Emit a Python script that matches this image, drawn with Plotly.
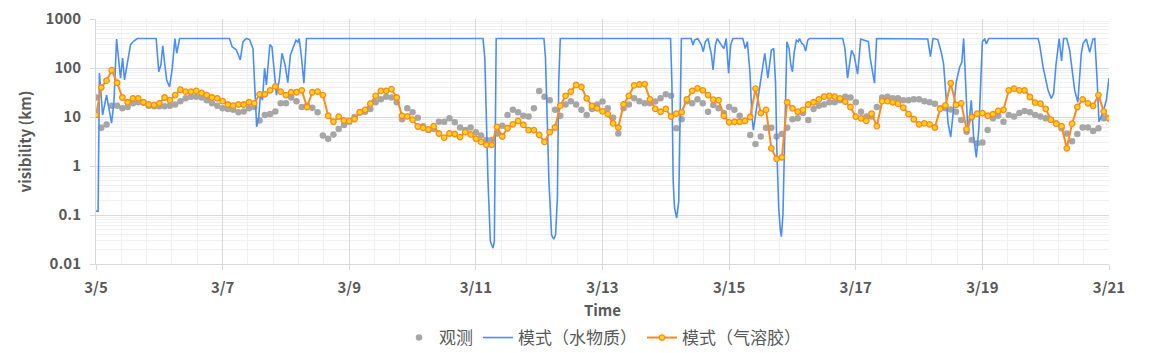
import pandas as pd
import plotly.graph_objects as go

# ---------------- data ----------------
START = "2023-03-05 00:00"
STEP_HOURS = 2  # observation / aerosol-model sampling interval

# observed visibility (km), every 2 h from 3/5 00:00 to 3/21 00:00
obs_vis = [
    25, 6, 7, 17, 17, 15, 16, 19, 20, 19.5, 17, 16.5,
    16.5, 16.5, 17, 18, 21, 24, 26, 26, 25, 22, 19, 17,
    15, 14.5, 14, 12.5, 13, 15, 16, 8.5, 11, 11.5, 13, 19,
    19, 25, 21, 16, 17, 15.5, 12.5, 4.2, 3.6, 4.4, 5.7, 6.9,
    8, 10, 12.5, 12.8, 14.6, 20, 23, 26, 25, 20, 9, 15,
    12.5, 9.7, 6.5, 5.4, 5.7, 8, 8, 9.4, 7.8, 6.1, 5.4, 6.1,
    4.9, 4.2, 3.4, 3.4, 4.6, 6.6, 11, 14, 12.5, 10.6, 10.2, 15,
    34, 26, 22, 14, 10.6, 18, 21, 18, 14, 11, 14.6, 18,
    20.6, 15, 9.7, 4.6, 15, 18, 24, 21, 19, 19, 20.6, 24,
    29, 27, 5.9, 9, 21, 19, 23, 19, 12.8, 17.6, 15, 12,
    16, 14, 10.6, 8.3, 4.3, 2.8, 4, 6, 6, 4, 4.5, 6,
    9, 9.4, 12, 8.7, 14.6, 17, 18, 20, 20, 22, 26, 25,
    20, 12.8, 10.2, 10.2, 16, 25, 26, 24, 24, 22, 22, 23,
    23, 21, 20, 18.7, 15, 15, 14.3, 12.8, 8.7, 5, 3.4, 2.9,
    3.0, 5.4, 9.4, 10.6, 8, 11, 10.2, 12, 13.3, 12.5, 11, 10.2,
    9.4, 8.7, 7.4, 5.9, 4.6, 3.2, 4.5, 6.1, 6.1, 5.2, 5.9, 9.4,
    9.4,
]

# aerosol model visibility (km), every 2 h
aero_vis = [
    11, 40, 55, 90, 50, 25, 20, 24, 24, 20, 18, 17.6,
    19, 25, 22, 28, 36, 33, 33, 34, 31, 28, 25, 24,
    21, 18, 17, 18, 18, 20, 19, 29, 29, 35, 42, 33,
    28, 32, 32, 35, 16, 32, 33, 28, 10.6, 8.0, 10.2, 8.5,
    8.3, 9.1, 12.5, 14, 18.7, 27, 34, 34, 37, 25, 10.6, 10.3,
    8.8, 6.4, 6.0, 5.6, 6.5, 4.6, 3.8, 4.6, 4.5, 3.9, 4.9, 4.4,
    3.6, 3.1, 2.7, 2.7, 6.3, 4.0, 5.9, 7.1, 8.3, 6.9, 5.4, 5.4,
    4.3, 3.1, 4.9, 6.1, 17, 27, 33, 45, 41, 24, 16.8, 15,
    13, 11.5, 7.4, 6.1, 18.1, 27, 44, 46, 47, 23, 14.6, 12.8,
    14.6, 10.2, 11.7, 12.5, 23, 34, 38.5, 35, 28, 22.6, 22, 10.6,
    7.8, 8.0, 8.0, 8.3, 10, 38, 12, 14, 2.3, 1.4, 1.5, 20,
    15, 12.8, 14, 18, 20, 23, 26, 27, 26, 24, 20.6, 16,
    10.2, 9.4, 8.3, 11.7, 6.5, 21, 21, 20, 18.7, 15.5, 11.5, 9,
    7.1, 7.4, 7.1, 6.1, 14.6, 17.3, 49, 17.6, 19, 5.6, 10, 11.7,
    12, 10.6, 11.5, 13.3, 14, 35, 38, 35, 35, 25.6, 19.6, 18.7,
    14.6, 8.8, 7.3, 6.5, 2.3, 7.3, 16, 23, 19, 16.8, 28, 13,
    9.4,
]

# hydrometeor model: (hours since 3/5 00:00, visibility km) vertices
hydro_hours = [
    0, 0.8, 1.3, 2.5, 4.0, 5.9, 6.8, 7.8, 9.3, 10.1, 10.8, 13.1, 14.2, 15.7,
    22.8, 23.3, 23.8, 24.6, 25.3, 26.1, 26.8, 27.9, 28.9, 29.9, 30.6, 31.7,
    50.6, 51.6, 53.2, 54.7, 55.7, 57.0, 58.2, 59.5, 60.2, 60.9, 61.7, 62.4,
    63.1, 63.9, 64.6, 65.9, 66.7, 67.4, 68.4, 69.5, 70.5, 71.7, 72.7, 73.7,
    74.8, 75.8, 76.5, 77.0, 77.8, 78.8, 79.8,
    146.7, 147.4, 148.6, 149.5, 150.5, 151.0, 151.4, 151.7,
    169.8, 170.4, 171.7, 172.7, 173.5, 174.2, 174.9, 175.4, 176.0,
    217.8, 218.3, 218.8, 219.3, 220.1, 220.9, 221.4, 221.9,
    225.6, 226.3, 226.9, 228.1, 229.5, 230.2, 231.0, 232.0, 233.3, 233.9,
    234.8, 235.5, 237.0, 238.0, 238.9, 239.8, 240.6, 241.4,
    245.2, 246.1, 246.9, 247.9, 248.6, 249.2, 250.3, 251.2, 252.2, 253.5,
    254.7, 256.0, 256.9, 257.6, 258.1, 258.8, 259.4, 259.8, 260.4, 260.9,
    261.4, 261.9, 262.7, 263.4, 264.0, 264.7, 265.5, 266.2, 266.7, 267.5,
    268.3, 269.0, 269.8, 270.5,
    283.1, 283.9, 284.9, 286.4, 287.4, 288.7, 289.9, 291.5, 292.8, 293.5,
    294.3, 295.1, 295.9,
    314.1, 315.3, 316.3, 317.3, 319.1, 320.5, 321.3, 321.7, 323.0, 324.0,
    324.9, 326.1, 327.4, 328.2, 328.9, 329.7, 330.5, 331.8, 332.7, 333.7,
    334.7, 336.0, 336.9, 337.5, 338.4,
    357.1, 357.7, 359.0, 360.9, 362.1, 363.0, 363.9, 365.1, 366.0, 366.8,
    368.0, 369.1, 371.0, 372.2, 373.5, 374.2, 375.4, 376.7, 377.9, 378.6,
    379.5, 380.2, 381.6, 383.0, 384.0,
]
hydro_vis = [
    0.12, 0.12, 79, 11, 28, 7.5, 20, 390, 62, 160, 57, 300, 350, 400,
    400, 215, 84, 115, 285, 115, 57, 41, 98, 400, 200, 400,
    400, 270, 235, 146, 340, 400, 380, 250, 50, 6.3, 10, 33,
    22, 99, 45, 300, 270, 99, 28, 57, 200, 115, 50, 185,
    270, 370, 340, 400, 185, 49, 400,
    400, 157, 0.48, 0.029, 0.021, 0.029, 2.3, 400,
    400, 157, 0.48, 0.039, 0.032, 0.039, 0.22, 52, 400,
    400, 52, 0.48, 0.14, 0.086, 0.19, 11, 400,
    400, 296, 370, 400, 296, 215, 345, 400, 185, 91,
    296, 400, 296, 250, 400, 78, 296, 400,
    400, 250, 345, 80, 11, 5.4, 14, 30, 66, 200,
    62, 230, 250, 50, 2.1, 0.14, 0.05, 0.036, 0.1, 2.3,
    52, 345, 250, 115, 84, 215, 370, 345, 400, 320,
    296, 222, 370, 400,
    400, 250, 62, 230, 180, 75, 390, 370, 345, 157,
    84, 49, 400,
    400, 390, 170, 400, 380, 200, 120, 57, 7.5, 3.9,
    14, 52, 105, 130, 400, 50, 4.7, 22, 3.9, 1.5,
    6.3, 345, 390, 310, 400,
    400, 300, 105, 35, 24, 30, 115, 400, 140, 400,
    400, 230, 35, 20, 200, 320, 390, 210, 390, 400,
    57, 8, 12, 22, 62,
]

y_tick_vals = [0.01, 0.1, 1, 10, 100, 1000]
y_tick_text = ["0.01", "0.1", "1", "10", "100", "1000"]

series_names = ["观测", "模式（水物质）", "模式（气溶胶）"]
x_title = "Time"
y_title = "visibility (km)"

# ---------------- figure ----------------
start = pd.Timestamp(START)
t_regular = pd.date_range(start, periods=len(obs_vis), freq=f"{STEP_HOURS}h")
t_hydro = start + pd.to_timedelta(hydro_hours, unit="h")

TXT = "#595959"
FONT = "Noto Sans CJK SC"

fig = go.Figure()
fig.add_trace(go.Scatter(
    x=t_regular, y=obs_vis, mode="markers", name=series_names[0],
    marker=dict(color="#a6a6a6", size=6.5, line=dict(width=0)),
))
fig.add_trace(go.Scatter(
    x=t_hydro, y=hydro_vis, mode="lines", name=series_names[1],
    line=dict(color="#4a8ef5", width=1.6),
))
fig.add_trace(go.Scatter(
    x=t_regular, y=aero_vis, mode="lines+markers", name=series_names[2],
    line=dict(color="#ff8a1c", width=2),
    marker=dict(symbol="circle", size=5.5, color="#ffd41f",
                line=dict(color="#ff8a1c", width=1.3)),
))

fig.update_layout(
    width=1160, height=353,
    margin=dict(l=96, r=51, t=19, b=89, autoexpand=False),
    paper_bgcolor="white", plot_bgcolor="white",
    font=dict(family=FONT, color=TXT, size=14),
    showlegend=True,
    legend=dict(orientation="h", x=0.5, xanchor="center", y=-0.302,
                yanchor="middle", font=dict(size=17, color=TXT, family=FONT),
                itemwidth=30, tracegroupgap=0),
)

fig.update_xaxes(
    type="date",
    range=[start, start + pd.Timedelta(days=16)],
    tick0=start, dtick=2 * 86400000, tickformat="%-m/%-d",
    showgrid=True, gridcolor="#d9d9d9", gridwidth=1,
    minor=dict(dtick=int(0.4 * 86400000), tick0=start, showgrid=True,
               gridcolor="#f0f0f0", gridwidth=1),
    showline=True, linecolor="#d9d9d9", linewidth=1,
    ticks="outside", ticklen=5, tickcolor="#d9d9d9",
    ticklabelstandoff=5,
    tickfont=dict(size=15, color=TXT, family=FONT, weight="bold"),
    title=dict(text=x_title, font=dict(size=15, color=TXT, family=FONT, weight="bold"),
               standoff=9),
    zeroline=False,
)
fig.update_yaxes(
    type="log", range=[-2, 3],
    tickvals=y_tick_vals, ticktext=y_tick_text,
    showgrid=True, gridcolor="#d9d9d9", gridwidth=1,
    minor=dict(dtick="D1", showgrid=True, gridcolor="#f0f0f0", gridwidth=1),
    showline=True, linecolor="#d9d9d9", linewidth=1,
    ticks="outside", ticklen=5, tickcolor="#d9d9d9",
    ticklabelstandoff=6,
    tickfont=dict(size=15, color=TXT, family=FONT, weight="bold"),
    title=dict(text=y_title, font=dict(size=15, color=TXT, family=FONT, weight="bold"),
               standoff=10),
    zeroline=False,
)

fig.write_html("out.html")
